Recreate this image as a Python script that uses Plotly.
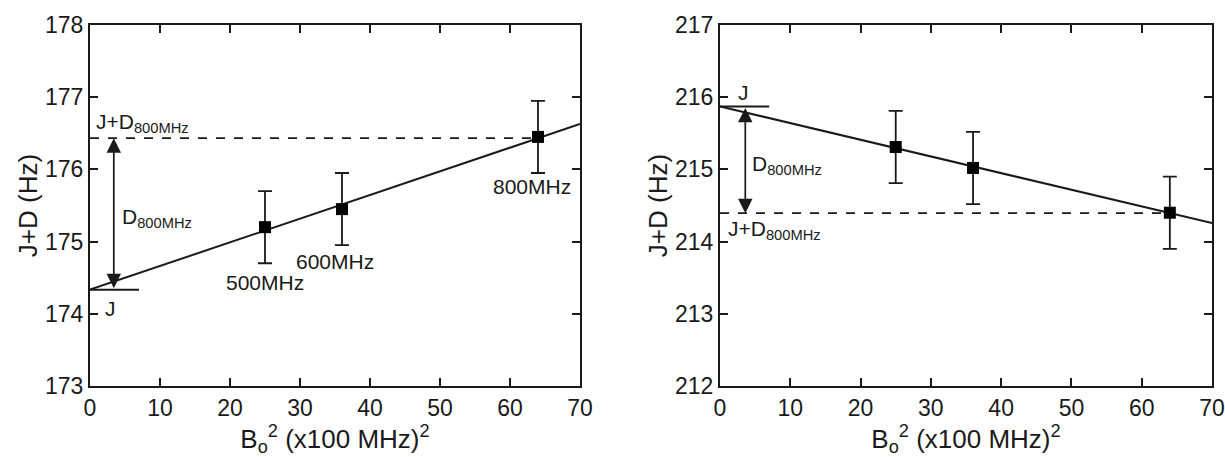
import numpy as np
import plotly.graph_objects as go

# ---- data ----
b0_squared = [25, 36, 64]              # (x100 MHz)^2
field_labels = ["500MHz", "600MHz", "800MHz"]
left_jd = [175.20, 175.45, 176.45]     # Hz
right_jd = [215.31, 215.02, 214.40]    # Hz
err_left = [0.5, 0.5, 0.5]
err_right = [0.5, 0.5, 0.5]
x_range = [0, 70]
left_yrange = [173, 178]
right_yrange = [212, 217]

FONT = "Arial, Liberation Sans, sans-serif"
INK = "#1a1a1a"

fig = go.Figure()


def add_panel(xa, ya, yvals, errs):
    slope, icpt = np.polyfit(b0_squared, yvals, 1)
    xs = np.array(x_range, dtype=float)
    fig.add_trace(go.Scatter(x=xs, y=icpt + slope * xs, mode="lines",
                             line=dict(color=INK, width=2),
                             xaxis=xa, yaxis=ya, showlegend=False, hoverinfo="skip"))
    y800 = icpt + slope * b0_squared[-1]
    fig.add_trace(go.Scatter(x=[0, b0_squared[-1]], y=[y800, y800], mode="lines",
                             line=dict(color=INK, width=1.8, dash="dash"),
                             xaxis=xa, yaxis=ya, showlegend=False, hoverinfo="skip"))
    fig.add_trace(go.Scatter(x=[0, 7], y=[icpt, icpt], mode="lines",
                             line=dict(color=INK, width=2),
                             xaxis=xa, yaxis=ya, showlegend=False, hoverinfo="skip"))
    fig.add_trace(go.Scatter(x=b0_squared, y=yvals, mode="markers",
                             marker=dict(symbol="square", size=12, color="black"),
                             error_y=dict(type="data", array=errs, color=INK,
                                          thickness=1.8, width=7),
                             xaxis=xa, yaxis=ya, showlegend=False))
    return icpt, y800


ic_l, y8_l = add_panel("x", "y", left_jd, err_left)
ic_r, y8_r = add_panel("x2", "y2", right_jd, err_right)

ann = []
for xr, yr, ic, y8 in [("x", "y", ic_l, y8_l), ("x2", "y2", ic_r, y8_r)]:
    xa = 3.4 if xr == "x" else 3.6
    ann.append(dict(x=xa, y=y8, ax=xa, ay=ic, xref=xr, yref=yr, axref=xr, ayref=yr,
                    text="", showarrow=True, arrowhead=2, arrowside="end+start",
                    arrowsize=1.7, arrowwidth=1.7, arrowcolor=INK,
                    standoff=0, startstandoff=0))

lab = dict(showarrow=False, font=dict(family=FONT, size=21, color=INK))
sub = "J+D<sub>800MHz</sub>"
dsub = "D<sub>800MHz</sub>"
ann += [
    dict(x=0.6, y=176.64, xref="x", yref="y", text=sub, xanchor="left", **lab),
    dict(x=4.3, y=175.33, xref="x", yref="y", text=dsub, xanchor="left", **lab),
    dict(x=2.9, y=174.08, xref="x", yref="y", text="J", xanchor="center", **lab),
    dict(x=25, y=174.44, xref="x", yref="y", text=field_labels[0], **lab),
    dict(x=35, y=174.72, xref="x", yref="y", text=field_labels[1], **lab),
    dict(x=63.1, y=175.76, xref="x", yref="y", text=field_labels[2], **lab),
    dict(x=3.3, y=216.07, xref="x2", yref="y2", text="J", xanchor="center", **lab),
    dict(x=4.3, y=215.06, xref="x2", yref="y2", text=dsub, xanchor="left", **lab),
    dict(x=0.9, y=214.16, xref="x2", yref="y2", text=sub, xanchor="left", **lab),
]

xtitle = "B<sub>o</sub><sup>2</sup> (x100 MHz)<sup>2</sup>"
axis_common = dict(showline=True, linecolor=INK, linewidth=2, mirror="ticks",
                   ticks="inside", ticklen=8, tickwidth=1.8, tickcolor=INK,
                   showgrid=False, zeroline=False, automargin=False,
                   tickfont=dict(family=FONT, size=23, color=INK))
xcommon = dict(axis_common, range=x_range, tickvals=list(range(0, 71, 10)),
               title=dict(text=xtitle, font=dict(family=FONT, size=26, color=INK), standoff=0))
ytitle = dict(text="J+D (Hz)", font=dict(family=FONT, size=26, color=INK), standoff=0)

fig.update_layout(
    width=1225, height=457,
    margin=dict(l=90, r=13, t=25, b=71),
    paper_bgcolor="white", plot_bgcolor="white",
    xaxis=dict(xcommon, domain=[0, 0.4367], anchor="y"),
    xaxis2=dict(xcommon, domain=[0.5615, 1.0], anchor="y2"),
    yaxis=dict(axis_common, range=left_yrange, dtick=1, anchor="x", title=ytitle),
    yaxis2=dict(axis_common, range=right_yrange, dtick=1, anchor="x2", title=ytitle),
    annotations=ann,
    showlegend=False,
)

fig.write_html("out.html", config={"displayModeBar": False},
               post_script="document.body.style.margin='0';document.body.style.overflow='hidden';")
